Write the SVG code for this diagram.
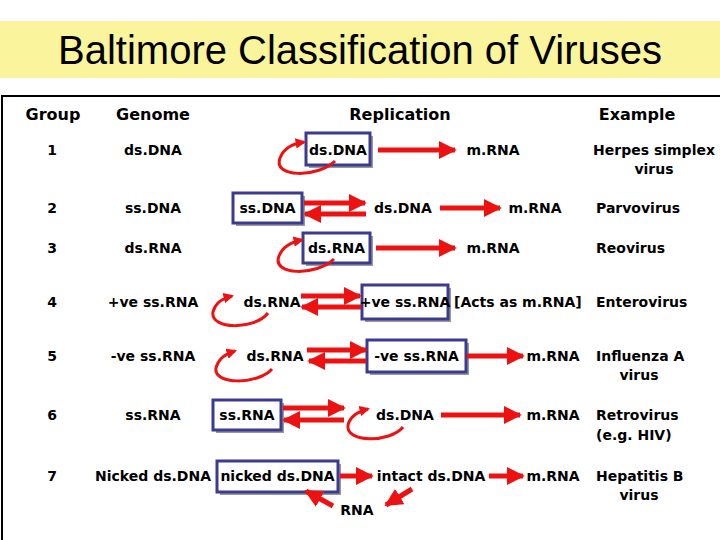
<svg xmlns="http://www.w3.org/2000/svg" width="720" height="540" viewBox="0 0 720 540">
<defs>
<marker id="ah" viewBox="0 0 10 10" refX="9" refY="5" markerWidth="3.6" markerHeight="3.6" orient="auto" markerUnits="strokeWidth"><path d="M0,0 L10,5 L0,10 z" fill="#ee1111"/></marker>
<marker id="lh" viewBox="0 0 10 10" refX="8" refY="5" markerWidth="3.5" markerHeight="3.5" orient="auto" markerUnits="strokeWidth"><path d="M0,0 L10,5 L0,10 z" fill="#ee1111"/></marker>
</defs>
<style>
text{font-family:"DejaVu Sans","Liberation Sans",sans-serif;font-weight:bold;font-size:14px;fill:#000}
.h{font-size:16px}
.c{text-anchor:middle}
.box{fill:#fff;stroke:#3b3b8f;stroke-width:3}
.sh{fill:#999}
.a{stroke:#ee1111;stroke-width:5;fill:none;marker-end:url(#ah)}
.l{stroke:#ee1111;stroke-width:3;fill:none;marker-end:url(#lh)}
</style>
<rect width="720" height="540" fill="#fff"/>
<rect x="0" y="21" width="720" height="57" fill="#faf59c"/>
<text x="360" y="64" class="c" style="font-family:'Liberation Sans',Arial,sans-serif;font-weight:normal;font-size:40px">Baltimore Classification of Viruses</text>
<path d="M2,545 V96 H720" fill="none" stroke="#000" stroke-width="2"/>

<g id="headers">
<text x="53" y="120" class="c h">Group</text>
<text x="153" y="120" class="c h">Genome</text>
<text x="400" y="120" class="c h">Replication</text>
<text x="637" y="120" class="c h">Example</text>
</g>

<g id="col">
<text x="52" y="155" class="c">1</text><text x="153" y="155" class="c">ds.DNA</text>
<text x="52" y="213" class="c">2</text><text x="153" y="213" class="c">ss.DNA</text>
<text x="52" y="253" class="c">3</text><text x="153" y="253" class="c">ds.RNA</text>
<text x="52" y="307" class="c">4</text><text x="153" y="307" class="c">+ve ss.RNA</text>
<text x="52" y="361" class="c">5</text><text x="153" y="361" class="c">-ve ss.RNA</text>
<text x="52" y="420" class="c">6</text><text x="153" y="420" class="c">ss.RNA</text>
<text x="52" y="481" class="c">7</text><text x="153" y="481" class="c">Nicked ds.DNA</text>
</g>

<g id="examples">
<text x="654" y="155" class="c">Herpes simplex</text><text x="654" y="174" class="c">virus</text>
<text x="596" y="213">Parvovirus</text>
<text x="596" y="253">Reovirus</text>
<text x="596" y="307">Enterovirus</text>
<text x="596" y="361">Influenza A</text><text x="639" y="380" class="c">virus</text>
<text x="596" y="420">Retrovirus</text><text x="596" y="440">(e.g. HIV)</text>
<text x="596" y="481">Hepatitis B</text><text x="639" y="500" class="c">virus</text>
</g>

<g id="boxes">
<g id="n1"><rect x="309" y="136" width="64" height="32" class="sh"/><rect x="306" y="133" width="64" height="32" class="box"/><text x="338" y="155" class="c">ds.DNA</text></g>
<g id="n2"><rect x="236" y="196" width="69" height="30" class="sh"/><rect x="233" y="193" width="69" height="30" class="box"/><text x="267.5" y="213" class="c">ss.DNA</text></g>
<g id="n3"><rect x="306" y="236" width="67" height="30" class="sh"/><rect x="303" y="233" width="67" height="30" class="box"/><text x="336.5" y="253" class="c">ds.RNA</text></g>
<g id="n4"><rect x="365" y="288" width="86" height="34" class="sh"/><rect x="362" y="285" width="86" height="34" class="box"/><text x="405" y="307" class="c">+ve ss.RNA</text></g>
<g id="n5"><rect x="370" y="343" width="99" height="32" class="sh"/><rect x="367" y="340" width="99" height="32" class="box"/><text x="416.5" y="361" class="c">-ve ss.RNA</text></g>
<g id="n6"><rect x="216" y="403" width="68" height="30" class="sh"/><rect x="213" y="400" width="68" height="30" class="box"/><text x="247" y="420" class="c">ss.RNA</text></g>
<g id="n7"><rect x="220" y="464" width="121" height="31" class="sh"/><rect x="217" y="461" width="121" height="31" class="box"/><text x="277.5" y="481" class="c">nicked ds.DNA</text></g>
</g>

<g id="labels">
<text x="493" y="155" class="c">m.RNA</text>
<text x="403" y="213" class="c">ds.DNA</text>
<text x="535" y="213" class="c">m.RNA</text>
<text x="493" y="253" class="c">m.RNA</text>
<text x="272" y="307" class="c">ds.RNA</text>
<text x="454" y="307">[Acts as m.RNA]</text>
<text x="275" y="361" class="c">ds.RNA</text>
<text x="553" y="361" class="c">m.RNA</text>
<text x="405" y="420" class="c">ds.DNA</text>
<text x="553" y="420" class="c">m.RNA</text>
<text x="431" y="481" class="c">intact ds.DNA</text>
<text x="553" y="481" class="c">m.RNA</text>
<text x="357" y="515" class="c">RNA</text>
</g>

<g id="connectors">
<path d="M378,150 H455" class="a"/>
<path d="M304,203 H365" class="a"/><path d="M366,214 H305" class="a"/>
<path d="M440,208 H500" class="a"/>
<path d="M376,248 H455" class="a"/>
<path d="M301,296 H360" class="a"/><path d="M361,307 H302" class="a"/>
<path d="M307,350 H366" class="a"/><path d="M366,361 H309" class="a"/>
<path d="M467,356 H523" class="a"/>
<path d="M283,408 H344" class="a"/><path d="M344,420 H284" class="a"/>
<path d="M441,415 H520" class="a"/>
<path d="M340,476 H372" class="a"/>
<path d="M489,476 H523" class="a"/>
<path d="M412,489 L386,505" class="a"/>
<path d="M333,506 L306,491" class="a"/>
<path d="M335,161 C318,178 272,178 280,158 C284,148 292,144 304,142" class="l"/>
<path d="M334,259 C317,276 271,276 279,256 C283,246 291,242 302,240" class="l"/>
<path d="M268,313 C255,330 210,330 213,312 C215,304 220,299 232,296" class="l"/>
<path d="M272,369 C258,385 213,385 216,368 C218,360 223,355 235,351" class="l"/>
<path d="M403,427 C390,443 345,443 348,425 C350,417 356,412 368,409" class="l"/>
</g>
</svg>
